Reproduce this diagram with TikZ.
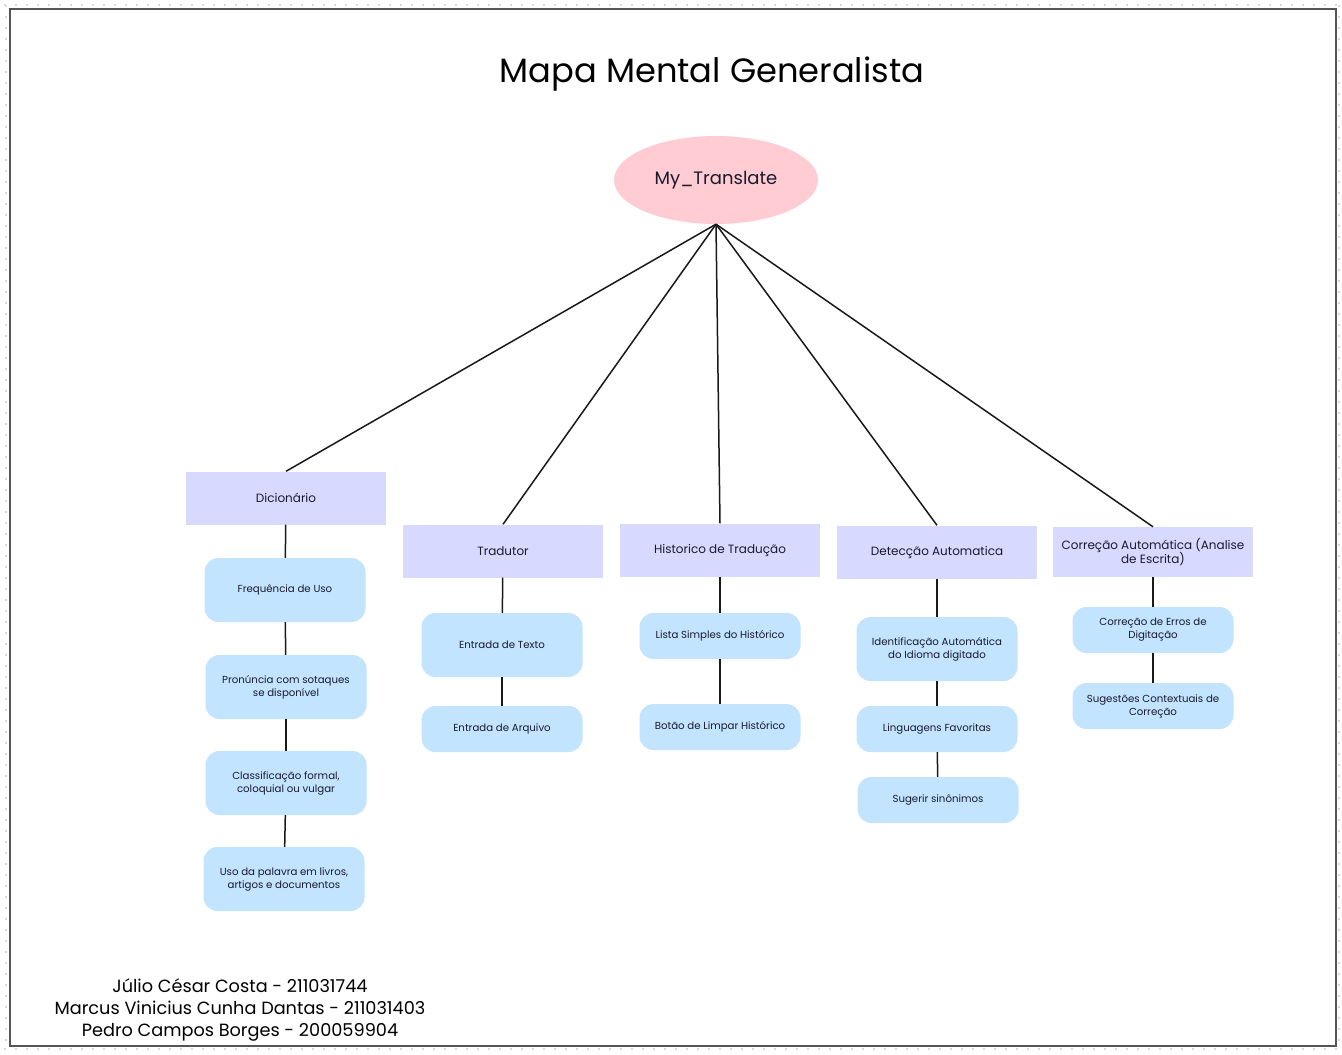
\documentclass[tikz,border=0pt]{standalone}
\usepackage{fontspec}
\setmainfont{Poppins}
\usetikzlibrary{shapes.geometric}
\definecolor{rootpink}{HTML}{FFCCD3}
\definecolor{catlav}{HTML}{D8D9FF}
\definecolor{leafblue}{HTML}{C2E4FF}
\definecolor{framegray}{HTML}{555555}
\definecolor{textdark}{HTML}{1A1A2E}
\tikzset{
  x=1pt, y=-1pt,
  root/.style={ellipse, fill=rootpink, minimum width=204pt, minimum height=88pt, inner sep=0pt, font=\fontsize{18}{22}\selectfont, text=textdark},
  cat/.style={rectangle, fill=catlav, minimum width=200pt, minimum height=53pt, inner sep=2pt, align=center, font=\fontsize{12}{14.5}\selectfont, text=textdark},
  leaf/.style={rectangle, rounded corners=14pt, fill=leafblue, minimum width=161pt, inner sep=2pt, align=center, font=\fontsize{10.2}{13}\selectfont, text=textdark},
  tall/.style={leaf, minimum height=64pt},
  short/.style={leaf, minimum height=46pt},
  link/.style={draw=black!90, line width=1.5pt},
}
\begin{document}
\begin{tikzpicture}
\useasboundingbox (0,0) rectangle (1342,1055);
\fill[white] (0,0) rectangle (1342,1055);
\draw[black!15, line width=1.5pt, dash pattern=on 1.5pt off 9.5pt] (4,5) -- (1340,5);
\draw[black!15, line width=1.5pt, dash pattern=on 1.5pt off 9.5pt] (6,5) -- (6,1050);
\draw[black!15, line width=1.5pt, dash pattern=on 1.5pt off 9.5pt] (4,1049) -- (1340,1049);
\draw[black!15, line width=1.5pt, dash pattern=on 1.5pt off 9.5pt] (1339,5) -- (1339,1050);
\draw[framegray, line width=1.2pt] (10,9) rectangle (1336,1046);

\node (title) at (712,74) {\fontsize{33.7}{38}\selectfont Mapa Mental Generalista};

\node[root] (root) at (716,180) {\raisebox{-2.5pt}{My\_Translate}};

\node[cat] (dic) at (286,498) {Dicionário};
\node[cat] (trad) at (503,551) {Tradutor};
\node[cat] (hist) at (720,550) {Historico de Tradução};
\node[cat] (det) at (937,552) {Detecção Automatica};
\node[cat, minimum height=50pt] (cor) at (1153,552) {Correção Automática (Analise\\de Escrita)};

\node[tall] (freq) at (285,590) {Frequência de Uso};
\node[tall] (pron) at (286,687) {Pronúncia com sotaques\\se disponível};
\node[tall] (clas) at (286,783) {Classificação formal,\\coloquial ou vulgar};
\node[tall] (uso) at (284,879) {Uso da palavra em livros,\\artigos e documentos};

\node[tall] (etex) at (502,645) {Entrada de Texto};
\node[short] (earq) at (502,729) {Entrada de Arquivo};

\node[short] (lista) at (720,636) {Lista Simples do Histórico};
\node[short] (botao) at (720,727) {Botão de Limpar Histórico};

\node[tall] (ident) at (937,649) {Identificação Automática\\do Idioma digitado};
\node[short] (ling) at (937,729) {Linguagens Favoritas};
\node[short] (sug) at (938,800) {Sugerir sinônimos};

\node[short] (erros) at (1153,630) {Correção de Erros de\\Digitação};
\node[short] (ctx) at (1153,706) {Sugestões Contextuais de\\Correção};

\foreach \t in {dic,trad,hist,det,cor}
  \draw[link] (root.south) -- (\t.north);

\draw[link] (dic) -- (freq);
\draw[link] (freq) -- (pron);
\draw[link] (pron) -- (clas);
\draw[link] (clas) -- (uso);
\draw[link] (trad) -- (etex);
\draw[link] (etex) -- (earq);
\draw[link] (hist) -- (lista);
\draw[link] (lista) -- (botao);
\draw[link] (det) -- (ident);
\draw[link] (ident) -- (ling);
\draw[link] (ling) -- (sug);
\draw[link] (cor) -- (erros);
\draw[link] (erros) -- (ctx);

\node[align=center, font=\fontsize{17.7}{22}\selectfont] (auth) at (240,1010) {Júlio César Costa - 211031744\\Marcus Vinicius Cunha Dantas - 211031403\\Pedro Campos Borges - 200059904};
\end{tikzpicture}
\end{document}
